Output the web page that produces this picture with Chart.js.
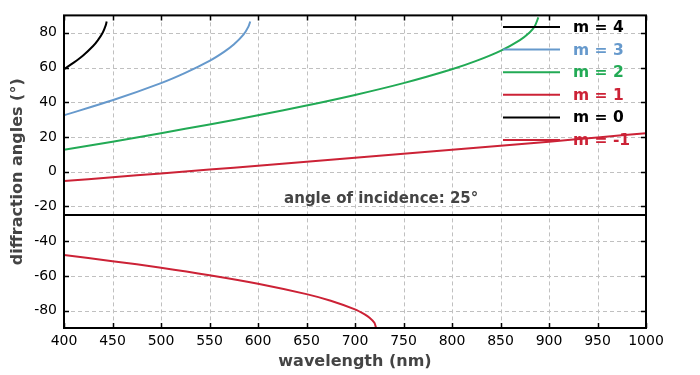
<!DOCTYPE html>
<html lang="en">
<head>
<meta charset="UTF-8">
<title>diffraction angles</title>
<script src="https://cdn.jsdelivr.net/npm/chart.js"></script>
<style>
    html, body { margin: 0; padding: 0; background: #fff; }
    #wrap { width: 700px; height: 375px; }
</style>
</head>
<body>
<div id="wrap"><canvas id="chart" width="700" height="375"></canvas></div>
<script>
// wavelengths (nm) and angles (deg), one pair of arrays per order
const lambdaM4 = [400, 410, 420, 430, 435, 440, 443, 444];
const angleM4  = [59.0, 62.8, 67.1, 72.4, 75.8, 80.2, 84.3, 86.5];

const lambdaM3 = [400, 450, 500, 525, 550, 565, 575, 585, 590, 592];
const angleM3  = [32.5, 41.1, 51.0, 56.9, 63.8, 69.0, 73.2, 78.9, 83.4, 86.5];

const lambdaM2 = [400, 450, 500, 550, 600, 650, 700, 750, 800, 825, 850, 870, 880, 885, 889];
const angleM2  = [12.6, 17.3, 22.2, 27.2, 32.5, 38.1, 44.2, 51.0, 59.0, 63.8, 69.6, 75.8, 80.2, 83.4, 88.8];

const lambdaM1 = [400, 450, 500, 550, 600, 650, 700, 750, 800, 850, 900, 950, 1000];
const angleM1  = [-5.4, -3.2, -1.0, 1.2, 3.4, 5.7, 8.0, 10.3, 12.6, 14.9, 17.3, 19.7, 22.2];

const lambdaM0 = [400, 1000];
const angleM0  = [-25, -25];

const lambdaMm1 = [400, 450, 500, 550, 600, 650, 675, 700, 710, 715, 720, 721.7];
const angleMm1  = [-48.0, -51.5, -55.3, -59.6, -64.5, -70.5, -74.3, -79.3, -82.2, -84.1, -87.0, -90];

const seriesLabels = ['m = 4', 'm = 3', 'm = 2', 'm = 1', 'm = 0', 'm = -1'];
const seriesColors = ['#000000', '#6699cc', '#22aa55', '#cc2236', '#000000', '#cc2236'];

const xTicks = [400, 450, 500, 550, 600, 650, 700, 750, 800, 850, 900, 950, 1000];
const yTicks = [-80, -60, -40, -20, 0, 20, 40, 60, 80];

const noteText = 'angle of incidence: 25°';
const FONT = '"DejaVu Sans", Verdana, sans-serif';

function pairs(xs, ys) {
    return xs.map((x, i) => ({ x: x, y: ys[i] }));
}

const allSeries = [
    pairs(lambdaM4, angleM4),
    pairs(lambdaM3, angleM3),
    pairs(lambdaM2, angleM2),
    pairs(lambdaM1, angleM1),
    pairs(lambdaM0, angleM0),
    pairs(lambdaMm1, angleMm1)
];

const datasets = allSeries.map((d, i) => ({
    label: seriesLabels[i],
    data: d,
    borderColor: seriesColors[i],
    backgroundColor: seriesColors[i],
    borderWidth: 2,
    pointRadius: 0,
    tension: 0.3,
    fill: false
}));

// dashed grid under the curves
const gridPlugin = {
    id: 'dashgrid',
    beforeDatasetsDraw(chart) {
        const ctx = chart.ctx;
        const a = chart.chartArea;
        const xs = chart.scales.x, ys = chart.scales.y;
        ctx.save();
        ctx.strokeStyle = '#c0c0c0';
        ctx.lineWidth = 1;
        ctx.setLineDash([4, 3]);
        ctx.beginPath();
        xTicks.forEach(v => {
            const px = Math.round(xs.getPixelForValue(v)) + 0.5;
            ctx.moveTo(px, a.top); ctx.lineTo(px, a.bottom);
        });
        yTicks.forEach(v => {
            const py = Math.round(ys.getPixelForValue(v)) + 0.5;
            ctx.moveTo(a.left, py); ctx.lineTo(a.right, py);
        });
        ctx.stroke();
        ctx.restore();
    }
};

// frame with inward ticks on all four sides, legend and note
const decorPlugin = {
    id: 'decor',
    afterDatasetsDraw(chart) {
        const ctx = chart.ctx;
        const a = chart.chartArea;
        const xs = chart.scales.x, ys = chart.scales.y;
        ctx.save();

        // note above the m = 0 line
        ctx.font = 'bold 15px ' + FONT;
        ctx.fillStyle = '#444444';
        ctx.textAlign = 'center';
        ctx.textBaseline = 'alphabetic';
        ctx.fillText(noteText, xs.getPixelForValue(727), ys.getPixelForValue(-18));

        // legend
        ctx.font = 'bold 15.5px ' + FONT;
        ctx.textAlign = 'left';
        ctx.textBaseline = 'middle';
        seriesLabels.forEach((lab, i) => {
            const y = 27 + i * 22.6;
            ctx.strokeStyle = seriesColors[i];
            ctx.lineWidth = 2;
            ctx.beginPath();
            ctx.moveTo(503, y);
            ctx.lineTo(560, y);
            ctx.stroke();
            ctx.fillStyle = seriesColors[i];
            ctx.fillText(lab, 573, y + 1);
        });

        // frame
        ctx.strokeStyle = '#000';
        ctx.lineWidth = 2;
        ctx.strokeRect(a.left, a.top, a.right - a.left, a.bottom - a.top);
        ctx.lineWidth = 1.5;
        ctx.beginPath();
        xTicks.forEach(v => {
            const px = Math.round(xs.getPixelForValue(v)) + 0.5;
            ctx.moveTo(px, a.bottom); ctx.lineTo(px, a.bottom - 5);
            ctx.moveTo(px, a.top); ctx.lineTo(px, a.top + 5);
        });
        yTicks.forEach(v => {
            const py = Math.round(ys.getPixelForValue(v)) + 0.5;
            ctx.moveTo(a.left, py); ctx.lineTo(a.left + 5, py);
            ctx.moveTo(a.right, py); ctx.lineTo(a.right - 5, py);
        });
        ctx.stroke();
        ctx.restore();
    }
};

new Chart(document.getElementById('chart'), {
    type: 'line',
    data: { datasets: datasets },
    plugins: [gridPlugin, decorPlugin],
    options: {
        responsive: false,
        animation: false,
        layout: { padding: { top: 15, right: 54, left: 0, bottom: 0 } },
        plugins: {
            legend: { display: false },
            tooltip: { enabled: false }
        },
        scales: {
            x: {
                type: 'linear',
                min: 400,
                max: 1000,
                afterBuildTicks: s => { s.ticks = xTicks.map(v => ({ value: v })); },
                afterFit: s => { s.height = 47; },
                grid: { display: false, drawTicks: false },
                border: { display: false },
                ticks: { color: '#000', font: { family: FONT, size: 14 }, padding: 5, maxRotation: 0,
                         callback: v => String(v) },
                title: {
                    display: true,
                    text: 'wavelength (nm)',
                    color: '#444444',
                    font: { family: FONT, size: 16, weight: 'bold' },
                    padding: { top: 2, bottom: 4 }
                }
            },
            y: {
                type: 'linear',
                min: -90,
                max: 90,
                afterBuildTicks: s => { s.ticks = yTicks.map(v => ({ value: v })); },
                afterFit: s => { s.width = 64; },
                grid: { display: false, drawTicks: false },
                border: { display: false },
                ticks: { color: '#000', font: { family: FONT, size: 14 }, padding: 7,
                         callback: v => String(v) },
                title: {
                    display: true,
                    text: 'diffraction angles (°)',
                    color: '#444444',
                    font: { family: FONT, size: 16, weight: 'bold' },
                    padding: { top: 8, bottom: 0 }
                }
            }
        }
    }
});
</script>
</body>
</html>
